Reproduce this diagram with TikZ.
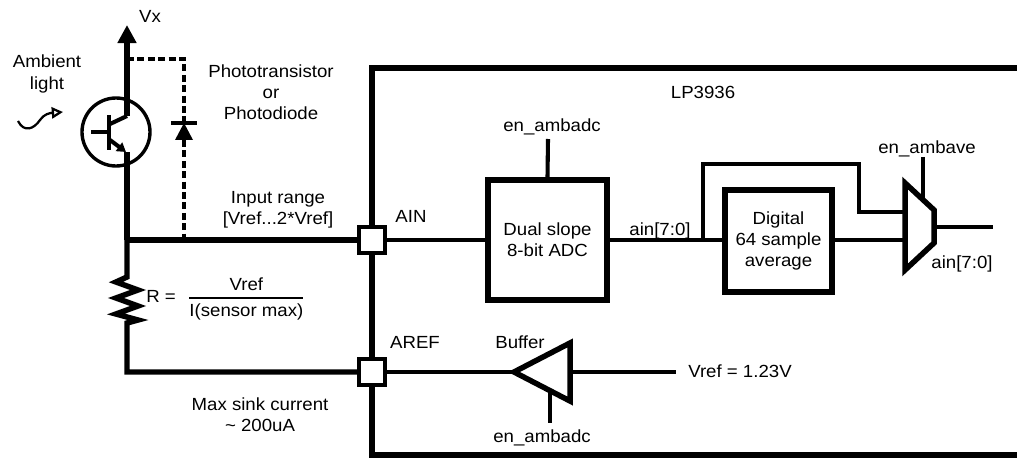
\documentclass[tikz,border=0pt]{standalone}
\usepackage{fontspec}
\setmainfont[FakeStretch=1.06]{Liberation Sans}
\usepackage{amsmath}
\usetikzlibrary{arrows.meta}

\begin{document}
\begin{tikzpicture}[x=0.025cm,y=-0.025cm,
  font=\fontsize{12.5}{15}\selectfont,
  wire/.style={line width=2.9pt},
  heavy/.style={line width=3.9pt},
  pad/.style={draw,fill=white,line width=2.9pt,minimum size=0.65cm,inner sep=0pt},
  block/.style={draw,line width=4.3pt,align=center,inner sep=0pt},
  lbl/.style={inner sep=0pt,anchor=base},
  txt/.style={inner sep=0pt,align=center}]
\useasboundingbox (0,0) rectangle (1017,459);

% chip outline
\draw[heavy] (1017,68) -- (372,68) -- (372,455) -- (1017,455);
\node[txt] (chip) at (703,92) {LP3936};

% pads and blocks
\node[pad] (ain) at (372,240) {};
\node[pad] (aref) at (372,372) {};
\node[block,minimum width=2.975cm,minimum height=3cm] (adc) at (547.5,240) {Dual slope\\8-bit ADC};
\node[block,minimum width=2.675cm,minimum height=2.55cm] (avg) at (778.5,241) {Digital\\64 sample\\average};
\node[lbl] (ain-l) at (411,222) {AIN};
\node[lbl] (aref-l) at (415,348) {AREF};

% sensor side
\coordinate (vx) at (127,25);
\coordinate (top) at (127,240);
\coordinate (bot) at (127,372);
\draw[heavy] (top) -- (ain.west);
\draw[heavy] (top) -- (127,152);
\draw[heavy,-{Triangle[length=4.5mm,width=4.5mm]}] (127,116) -- (vx);
\node[lbl] (vx-l) at (150,23) {Vx};
\draw[line width=2.4pt] (116,132) circle[radius=34];
\draw[wire] (91,132) -- (109,132);
\draw[line width=3.4pt] (109,115) -- (109,150);
\draw[wire] (127,116) -- (110,124);
\draw[wire,-{Triangle[length=2.2mm,width=2.6mm]}] (110,140) -- (126,152);
\draw[line width=2.8pt,dash pattern=on 5pt off 2.4pt] (127,59) -- (184,59) -- (184,123);
\draw[line width=2.8pt,dash pattern=on 5pt off 2.4pt] (184,140) -- (184,240);
\fill (175,140) -- (193,140) -- (184,123) -- cycle;
\draw[wire] (171,123) -- (197,123);
\draw[line width=1.6pt,-{Triangle[open,length=2.8mm,width=2.8mm]}] (18,121) .. controls (24,133) and (34,129) .. (40,120) .. controls (44,114) and (50,113) .. (63,112);
\node[txt] (amb) at (47,74) {Ambient\\light};
\node[txt] (sensor) at (271,92) {Phototransistor\\or\\Photodiode};
\node[txt] (range) at (278,210) {Input range\\{[Vref...2*Vref]}};

% resistor
\draw[heavy] (top) -- (127,277) -- (116,282) -- (138,290) -- (116,298) -- (138,306) -- (116,314) -- (138,320) -- (127,323) -- (bot) -- (aref.west);
\node[txt,anchor=west] (rval) at (146,299) {R =\hspace{0.3cm}$\genfrac{}{}{1.2pt}{0}{\mbox{Vref}}{\mbox{I(sensor max)}}$};
\node[txt] (sink) at (260,415) {Max sink current\\{\textasciitilde} 200uA};

% adc path
\draw[wire] (ain.east) -- (adc.west);
\draw[wire] (548,139) -- (adc.north);
\node[lbl] (en-adc) at (552,132) {en\_ambadc};
\node[lbl] (ain-o) at (660,235) {ain[7:0]};
\coordinate (split) at (703,240);
\draw[wire] (adc.east) -- (avg.west |- split);

% mux
\coordinate (m1) at (905,183);
\coordinate (m2) at (934,210);
\coordinate (m3) at (934,243);
\coordinate (m4) at (905,270);
\draw[heavy] (m1) -- (m2) -- (m3) -- (m4) -- cycle;
\coordinate (mux-a) at (905,212);
\coordinate (mux-b) at (905,240);
\coordinate (mux-o) at (934,227);
\coordinate (out) at (993,227);
\draw[wire] (split) -- (703,164) -- (859,164) -- (859,212) -- (mux-a);
\draw[wire] (avg.east |- mux-b) -- (mux-b);
\draw[wire] (mux-o) -- (out);
\draw[wire] (923,157) -- (923,200);
\node[lbl] (en-ave) at (927,153) {en\_ambave};
\node[lbl] (ain-m) at (962,268) {ain[7:0]};

% buffer
\coordinate (btip) at (514,372);
\draw[heavy] (btip) -- (570,343) -- (570,401) -- cycle;
\draw[wire] (aref.east) -- (btip);
\draw[wire] (570,372) -- (676,372);
\node[lbl,anchor=base west] (vref) at (688,377) {Vref = 1.23V};
\node[lbl] (buf) at (520,348) {Buffer};
\draw[wire] (550,391) -- (550,423);
\node[lbl] (en-buf) at (542,442) {en\_ambadc};
\end{tikzpicture}
\end{document}
